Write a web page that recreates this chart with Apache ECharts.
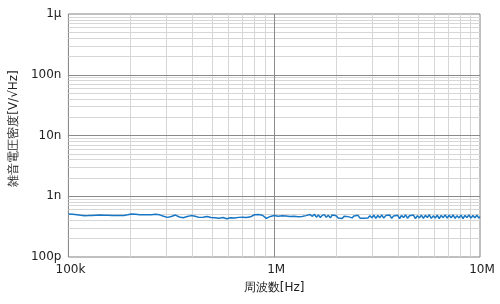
<!DOCTYPE html>
<html>
<head>
<meta charset="utf-8">
<script src="https://cdn.jsdelivr.net/npm/echarts@6/dist/echarts.min.js"></script>
<style>html,body{margin:0;padding:0;background:#fff;}#c{width:500px;height:304px;}</style>
</head>
<body>
<div id="c"></div>
<script>
// Frequencies in kHz
const freqKHz = [
  100,105,110,115,120,125,130,136,142,149,156,163,170,178,186,194,203,212,222,232,
  243,253,265,277,290,303,316,331,346,361,378,395,413,431,451,471,493,515,538,563,
  588,615,643,672,702,734,767,802,838,876,916,958,1000,1045,1093,1143,1195,1249,1306,1365,
  1427,1492,
  1534,1568,1603,1639,1676,1713,1752,1791,1831,1872,1914,1957,2001,2046,2092,2139,2187,2236,2286,
  2337,2389,2443,2498,2554,2611,2669,2729,2790,2853,2917,2982,3049,3117,3187,3259,3332,3406,3483,
  3561,3640,3722,3805,3891,3978,4067,4158,4251,4347,4444,4544,4646,4750,4856,4965,5076,5190,5307,
  5426,5547,5672,5799,5929,6061,6197,6336,6478,6623,6772,6923,7079,7237,7399,7565,7735,7908,8085,
  8267,8452,8641,8835,9033,9235,9442,9653,9870,10000
];
// Noise density in nV/√Hz
const noiseNV = [
  0.51,0.506,0.497,0.487,0.478,0.48,0.484,0.487,0.489,0.487,0.485,0.482,0.48,0.482,0.484,0.494,0.509,0.506,0.498,0.494,
  0.496,0.498,0.506,0.494,0.47,0.449,0.464,0.49,0.456,0.443,0.463,0.48,0.47,0.449,0.453,0.463,0.448,0.443,0.436,0.446,
  0.427,0.444,0.438,0.449,0.453,0.446,0.458,0.496,0.5,0.487,0.432,0.466,0.482,0.47,0.477,0.475,0.463,0.47,0.458,0.466,
  0.48,0.5,
  0.468,0.505,0.452,0.49,0.447,0.485,0.498,0.45,0.488,0.44,0.492,0.458,0.478,0.438,0.462,0.432,0.47,0.495,0.462,
  0.488,0.44,0.475,0.448,0.485,0.436,0.468,0.435,0.462,0.438,0.478,0.442,0.488,0.432,0.482,0.445,0.492,0.436,0.48,
  0.45,0.49,0.434,0.475,0.442,0.488,0.43,0.482,0.446,0.494,0.436,0.478,0.444,0.49,0.428,0.48,0.44,0.49,0.434,
  0.484,0.448,0.496,0.432,0.476,0.438,0.49,0.43,0.484,0.444,0.494,0.436,0.486,0.442,0.492,0.434,0.48,0.44,0.49,
  0.43,0.484,0.445,0.492,0.436,0.482,0.442,0.488,0.438,0.462
];
const xTickLabels = ['100k','1M','10M'];      // 1e5, 1e6, 1e7
const yTickLabels = ['100p','1n','10n','100n','1μ']; // 1e-10 .. 1e-6
const minorMult = [2,3,4,5,6,7,8,9];
const xDecades = [1e5,1e6];
const yDecades = [1e-10,1e-9,1e-8,1e-7];
const xMajorInner = [1e6];
const yMajorInner = [1e-9,1e-8,1e-7];
const xName = '周波数[Hz]';
const yName = '雑音電圧密度[V/√Hz]';

const X0 = 1e5, X1 = 1e7, Y0 = 1e-10, Y1 = 1e-6;
const seriesData = freqKHz.map((f,i)=>[f*1000, noiseNV[i]*1e-9]);

const minorColor = '#d6d6d6';
const majorColor = '#8a8a8a';
function vLine(v,c){return [{coord:[v,Y0],lineStyle:{color:c,width:1,type:'solid'}},{coord:[v,Y1]}];}
function hLine(v,c){return [{coord:[X0,v],lineStyle:{color:c,width:1,type:'solid'}},{coord:[X1,v]}];}
const gridLines = [];
xDecades.forEach(d=>minorMult.forEach(m=>gridLines.push(vLine(d*m,minorColor))));
yDecades.forEach(d=>minorMult.forEach(m=>gridLines.push(hLine(d*m,minorColor))));
xMajorInner.forEach(v=>gridLines.push(vLine(v,majorColor)));
yMajorInner.forEach(v=>gridLines.push(hLine(v,majorColor)));

const font = 'DejaVu Sans, Verdana, sans-serif';
const chart = echarts.init(document.getElementById('c'), null, {renderer:'canvas'});
chart.setOption({
  animation:false,
  backgroundColor:'#fff',
  grid:{left:63, top:14, width:417, height:243, show:true, borderColor:'#808080', borderWidth:1, backgroundColor:'transparent'},
  xAxis:{
    type:'log', logBase:10, min:X0, max:X1,
    name:xName, nameLocation:'middle', nameGap:25,
    nameTextStyle:{fontFamily:font, fontSize:12, color:'#222'},
    axisLine:{show:false}, axisTick:{show:false}, splitLine:{show:false},
    axisLabel:{fontFamily:font, fontSize:12, color:'#222', margin:7, padding:[0,0,0,4],
      formatter:v=>xTickLabels[Math.round(Math.log10(v))-5]}
  },
  yAxis:{
    type:'log', logBase:10, min:Y0, max:Y1,
    name:yName, nameLocation:'middle', nameGap:38, nameRotate:90,
    nameTextStyle:{fontFamily:font, fontSize:12, color:'#222', padding:[0,0,0,14]},
    axisLine:{show:false}, axisTick:{show:false}, splitLine:{show:false},
    axisLabel:{fontFamily:font, fontSize:12, color:'#222', margin:7,
      formatter:v=>yTickLabels[Math.round(Math.log10(v))+10]}
  },
  series:[
    {type:'line', data:[[X0,Y0]], symbol:'none', lineStyle:{opacity:0}, silent:true, z:1,
      markLine:{silent:true, symbol:['none','none'], label:{show:false}, animation:false, data:gridLines}},
    {type:'line', data:seriesData, showSymbol:false, symbol:'none', z:5, sampling:null,
      lineStyle:{color:'#1877c5', width:1.5}, silent:true}
  ]
});
</script>
</body>
</html>
